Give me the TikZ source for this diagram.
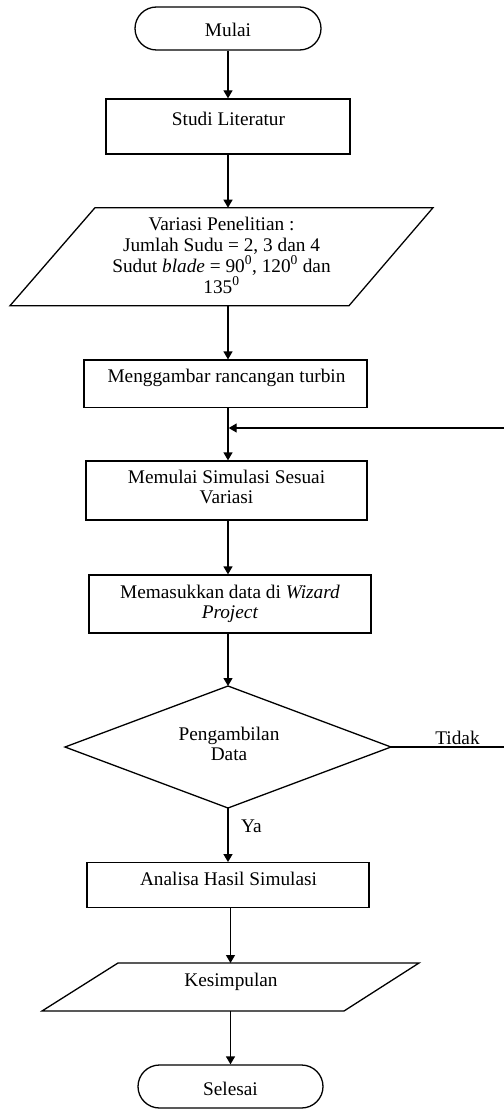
\documentclass[tikz,border=0pt]{standalone}
\usepackage{fontspec}
\setmainfont{Liberation Serif}
\usetikzlibrary{arrows.meta,calc}
\begin{document}
\begin{tikzpicture}[x=1pt,y=-1pt,
  ln/.style={line width=1.3pt, draw=black},
  arr/.style={ln, -{Triangle[length=8pt,width=9pt]}},
  frame/.style={ln, inner sep=0pt},
  ghost/.style={inner sep=0pt, outer sep=0pt},
  term/.style={frame, rounded corners=21.5pt, minimum width=186pt, minimum height=43pt},
  txt/.style={inner sep=0pt, anchor=base, align=center, font=\fontsize{19.3}{20}\selectfont},
  txtw/.style={txt, font=\fontsize{19.3}{20.7}\selectfont}
]
\useasboundingbox (0,0) rectangle (503,1110);
\coordinate (col) at (228,0);
\coordinate (colb) at (230.5,0);

% Mulai
\node[term] (mulai) at (228,28.5) {};
\node[txt] (tmulai) at (228,37) {Mulai};

% Studi Literatur
\node[frame, minimum width=244pt, minimum height=55pt] (studi) at (228,126.5) {};
\node[txt] (tstudi) at (228.5,126) {Studi Literatur};

% Variasi Penelitian (parallelogram)
\node[ghost, minimum width=423pt, minimum height=98pt] (var) at (221.5,256.7) {};
\draw[ln] ($(var.north west)+(85,0)$) -- (var.north east) -- ($(var.south east)+(-84,0)$) -- (var.south west) -- cycle;
\node[txtw] (tvar) at (221.5,293) {Variasi Penelitian :\\ Jumlah Sudu = 2, 3 dan 4\\ Sudut \textit{blade} = 90\textsuperscript{0}, 120\textsuperscript{0} dan\\ 135\textsuperscript{0}};

% Menggambar
\node[frame, minimum width=283pt, minimum height=47.7pt] (meng) at (225.5,383.9) {};
\node[txt] (tmeng) at (226.5,382.5) {Menggambar rancangan turbin};

% Memulai Simulasi
\node[frame, minimum width=281pt, minimum height=59pt] (memulai) at (226.5,490.5) {};
\node[txt] (tmemulai) at (226.5,503.3) {Memulai Simulasi Sesuai\\ Variasi};

% Memasukkan data
\node[frame, minimum width=282pt, minimum height=58pt] (masuk) at (230,604) {};
\node[txt] (tmasuk) at (230,618.3) {Memasukkan data di \textit{Wizard}\\ \textit{Project}};

% Decision
\node[ghost, minimum width=326pt, minimum height=122pt] (dia) at (228,747) {};
\draw[ln] (dia.north) -- (dia.east) -- (dia.south) -- (dia.west) -- cycle;
\node[txt] (tdia) at (229,760) {Pengambilan\\ Data};

% Analisa
\node[frame, minimum width=282pt, minimum height=45pt] (analisa) at (228,885.2) {};
\node[txt] (tanalisa) at (228.5,885.7) {Analisa Hasil Simulasi};

% Kesimpulan (parallelogram)
\node[ghost, minimum width=377pt, minimum height=48pt] (kes) at (230.5,987) {};
\draw[ln] ($(kes.north west)+(76,0)$) -- (kes.north east) -- ($(kes.south east)+(-75,0)$) -- (kes.south west) -- cycle;
\node[txt] (tkes) at (231,986) {Kesimpulan};

% Selesai
\node[term, minimum width=185pt] (selesai) at (230.5,1086.5) {};
\node[txt] (tselesai) at (230.5,1095) {Selesai};

% Connectors
\draw[arr] (col |- mulai.south) -- (col |- studi.north);
\draw[arr] (col |- studi.south) -- (col |- var.north);
\draw[arr] (col |- var.south) -- (col |- meng.north);
\draw[arr] (col |- meng.south) -- (col |- memulai.north);
\draw[arr] (col |- memulai.south) -- (col |- masuk.north);
\draw[arr] (col |- masuk.south) -- (col |- dia.north);
\draw[arr] (col |- dia.south) -- (col |- analisa.north);
\draw[arr] (colb |- analisa.south) -- (colb |- kes.north);
\draw[arr] (colb |- kes.south) -- (colb |- selesai.north);

% Feedback (Tidak)
\coordinate (fb1) at (506,747);
\coordinate (fb2) at (506,428);
\draw[arr, shorten >=0.7pt] (dia.east) -- (fb1) -- (fb2) -- (col |- fb2);
\node[txt] (ttidak) at (457.5,744.5) {Tidak};
\node[txt] (tya) at (251.5,832.7) {Ya};
\end{tikzpicture}
\end{document}
